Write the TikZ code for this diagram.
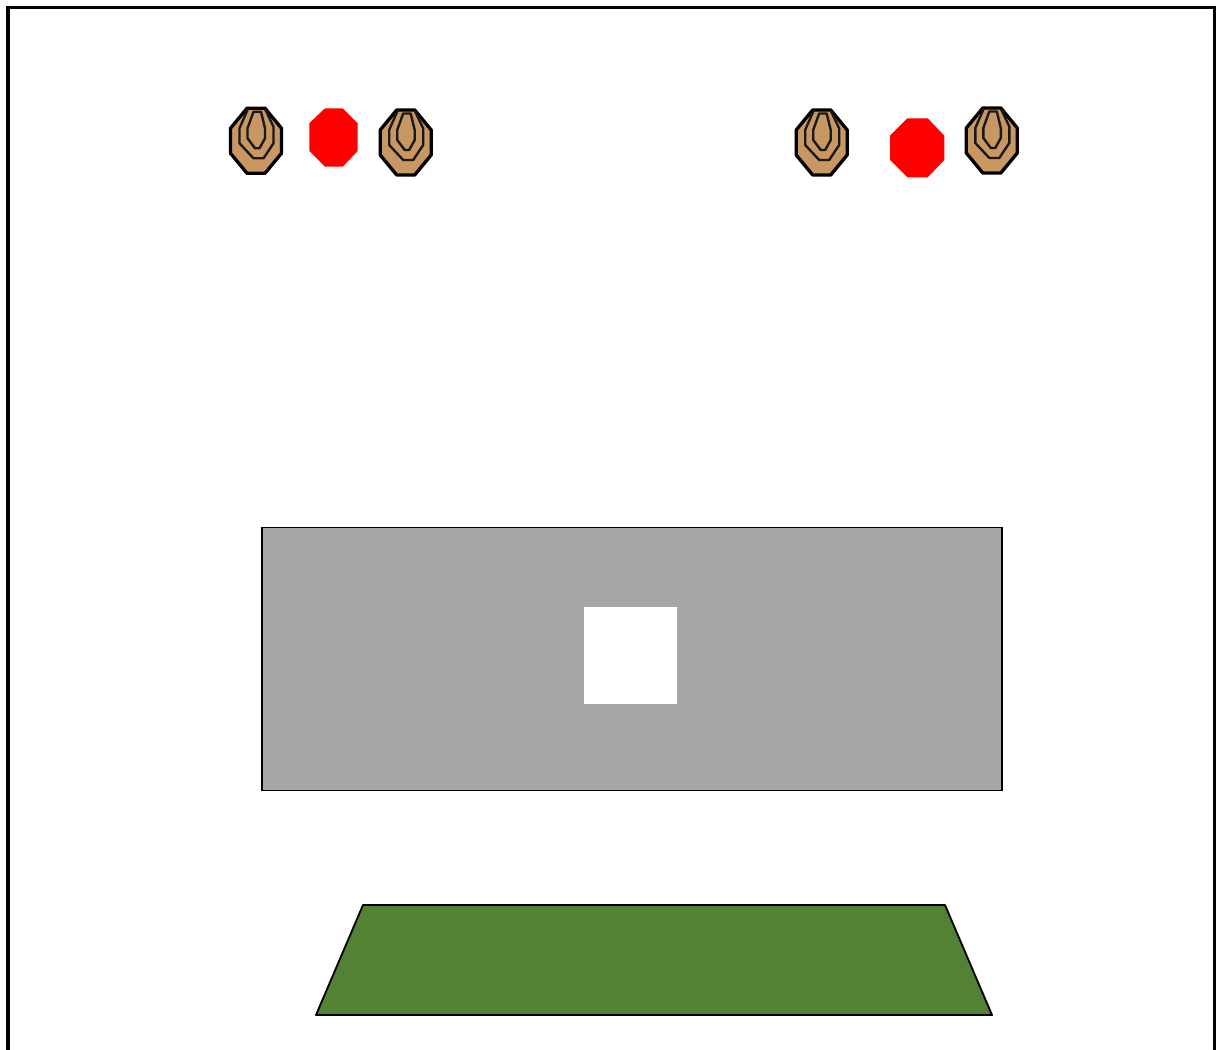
\documentclass[tikz,border=0pt]{standalone}
\usepackage{xcolor}
\definecolor{targetbrown}{RGB}{201, 151,  98}
\definecolor{stopred}    {RGB}{255,   0,   0}
\definecolor{bermgray}   {RGB}{166, 166, 166}
\definecolor{matgreen}   {RGB}{84,  130,  53}
\tikzset{
  px/.style={x=0.02cm, y=-0.02cm},
  framebox/.style={draw=black, line width=1.9pt},
  bermbox/.style={draw=black, line width=1.05pt, fill=bermgray},
  portbox/.style={fill=white},
  matbox/.style={draw=black, line width=1.05pt, fill=matgreen, line join=round},
  stopplate/.style={fill=stopred},
  targetbody/.style={draw=black, line width=1.9pt, fill=targetbrown, line join=round},
  targetring/.style={draw=black!90, line width=1.35pt, line join=round},
  target/.pic={
    \draw[targetbody] (-9,-32.5) -- (9,-32.5) -- (25.5,-12.5) -- (25.5,12.5)
      -- (9,32.5) -- (-9,32.5) -- (-25.5,12.5) -- (-25.5,-12.5) -- cycle;
    \draw[targetring] (-8,-32) -- (-16.5,-12.5) -- (-16.5,2.5) -- (-2.5,17.5)
      -- (7.5,17.5) -- (17.5,2.5) -- (17.5,-14) -- (9,-32);
    \draw[targetring] (-2.5,-29) -- (5,-29) -- (9,-12.5) -- (9,-2.5)
      -- (3.5,7.5) -- (-1,7.5) -- (-8.5,-2.5) -- (-8.5,-12.5) -- cycle;
  },
}
\begin{document}
\begin{tikzpicture}[px]

% ── Page and outer frame ──────────────────────────────────────────────────────
\useasboundingbox (0,0) rectangle (1216,1050);
\clip (0,0) rectangle (1216,1050);
\fill[white] (0,0) rectangle (1216,1050);
\draw[framebox] (8,7.5) rectangle (1215,1080);

% ── Steel targets ─────────────────────────────────────────────────────────────
\pic at (256,140.8)   {target};
\pic at (405.7,142.5) {target};
\pic at (821.7,142.5) {target};
\pic at (991.8,140.5) {target};

% ── Red plates ────────────────────────────────────────────────────────────────
\fill[stopplate] (325,108.3) -- (342.7,108.3) -- (357.7,123.3) -- (357.7,151)
  -- (342.7,166.7) -- (325,166.7) -- (309.3,151) -- (309.3,123.3) -- cycle;
\fill[stopplate] (907.3,118.3) -- (927.7,118.3) -- (944.3,135.7) -- (944.3,160)
  -- (927.7,177.3) -- (907.3,177.3) -- (890,160) -- (890,135.7) -- cycle;

% ── Gray block with white opening ─────────────────────────────────────────────
\draw[bermbox] (262,527.5) rectangle (1002,790.5);
\fill[portbox] (584,607) rectangle (677,704);

% ── Green shooting mat ────────────────────────────────────────────────────────
\draw[matbox] (363,905) -- (945,905) -- (992,1015) -- (316,1015) -- cycle;

\end{tikzpicture}
\end{document}
